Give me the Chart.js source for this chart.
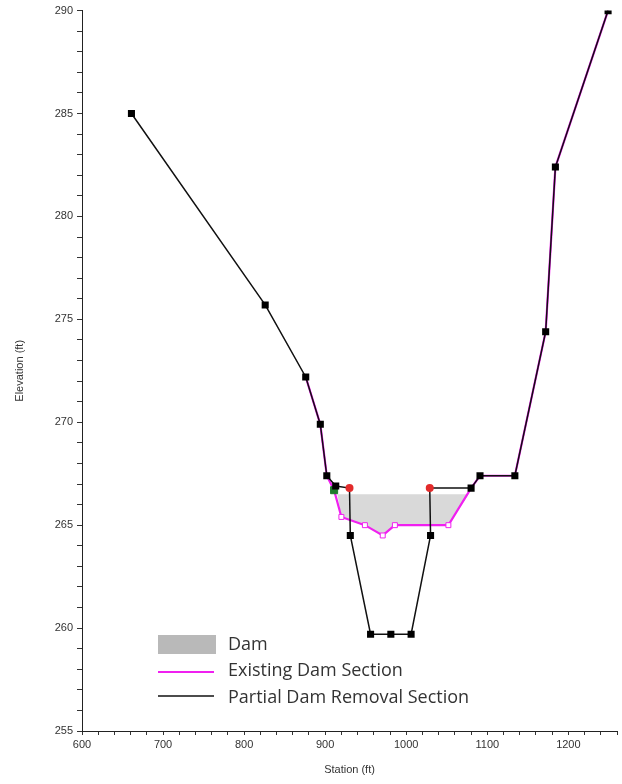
<!DOCTYPE html>
<html>
<head>
<meta charset="utf-8">
<title>Cross Section</title>
<script src="https://cdn.jsdelivr.net/npm/chart.js@4/dist/chart.umd.min.js"></script>
<style>
  html, body { margin: 0; padding: 0; background: #ffffff; }
  #wrap { width: 622px; height: 784px; position: relative; }
</style>
</head>
<body>
<div id="wrap"><canvas id="chart"></canvas></div>
<script>
// Partial dam removal cross section (station, elevation in ft)
const removalStation = [661, 826, 876, 894, 902, 913, 930, 931, 956, 981, 1006, 1030, 1029, 1080, 1091, 1134, 1172, 1184, 1249];
const removalElev    = [285.0, 275.7, 272.2, 269.9, 267.4, 266.9, 266.8, 264.5, 259.7, 259.7, 259.7, 264.5, 266.8, 266.8, 267.4, 267.4, 274.4, 282.4, 290.0];

// Existing dam section
const existingStation = [876, 894, 902, 911, 920, 949, 971, 986, 1052, 1080, 1091, 1134, 1172, 1184, 1249];
const existingElev    = [272.2, 269.9, 267.4, 266.7, 265.4, 265.0, 264.5, 265.0, 265.0, 266.8, 267.4, 267.4, 274.4, 282.4, 290.0];

// Dam body outline (closed shape)
const damStation = [915, 1077, 1052, 986, 971, 949, 920];
const damElev    = [266.5, 266.5, 265.0, 265.0, 264.5, 265.0, 265.4];

// Dam crest stations marked on the removal section
const crestStations = [930, 1029];

// Axis ranges and labelled ticks
const stationRange = [600, 1260];
const elevRange = [255, 290];
const stationLabels = [600, 700, 800, 900, 1000, 1100, 1200];
const elevLabels = [255, 260, 265, 270, 275, 280, 285, 290];

const legendItems = ['Dam', 'Existing Dam Section', 'Partial Dam Removal Section'];

const toPoints = (xs, ys) => xs.map((x, i) => ({ x: x, y: ys[i] }));

const MAGENTA = '#f020f0';
const DAM_FILL = 'rgba(185,185,185,0.55)';
const DAM_KEY = '#b9b9b9';

const isCrest = (ctx) => ctx.raw && crestStations.includes(ctx.raw.x);

const legendPlugin = {
  id: 'insetLegend',
  afterDraw(chart) {
    const c = chart.ctx;
    c.save();
    const x0 = 158, w = 58, tx = 228;
    // Dam swatch
    c.fillStyle = DAM_KEY;
    c.fillRect(x0, 635, w, 19);
    // Existing section line
    c.strokeStyle = MAGENTA;
    c.lineWidth = 2;
    c.beginPath(); c.moveTo(x0, 672); c.lineTo(x0 + 56, 672); c.stroke();
    // Removal section line
    c.strokeStyle = '#111111';
    c.lineWidth = 1.5;
    c.beginPath(); c.moveTo(x0, 696); c.lineTo(x0 + 56, 696); c.stroke();
    c.fillStyle = '#333333';
    c.font = '18px "Open Sans", Lato, sans-serif';
    c.textBaseline = 'alphabetic';
    c.fillText(legendItems[0], tx, 650);
    c.fillText(legendItems[1], tx, 676);
    c.fillText(legendItems[2], tx, 703);
    c.restore();
  }
};

const tickFont = { family: '"Liberation Sans", Arial, sans-serif', size: 11 };

new Chart(document.getElementById('chart'), {
  type: 'scatter',
  data: {
    datasets: [
      {
        label: legendItems[2],
        data: toPoints(removalStation, removalElev),
        showLine: true,
        borderColor: '#111111',
        borderWidth: 1.5,
        pointStyle: (ctx) => isCrest(ctx) ? 'circle' : 'rect',
        pointRadius: (ctx) => isCrest(ctx) ? 4 : 5,
        pointBackgroundColor: (ctx) => isCrest(ctx) ? '#e32b2b' : '#000000',
        pointBorderColor: (ctx) => isCrest(ctx) ? '#e32b2b' : '#000000',
        pointBorderWidth: 0,
        order: 1
      },
      {
        label: legendItems[1],
        data: toPoints(existingStation, existingElev),
        showLine: true,
        borderColor: MAGENTA,
        borderWidth: 2.2,
        pointStyle: 'rect',
        pointRadius: (ctx) => {
          const i = ctx.dataIndex;
          if (i === 3) return 5;
          return (i > 3 && i < 9) ? 3.5 : 0;
        },
        pointBackgroundColor: (ctx) => ctx.dataIndex === 3 ? '#1f7a2e' : '#ffffff',
        pointBorderColor: (ctx) => ctx.dataIndex === 3 ? '#1f7a2e' : MAGENTA,
        pointBorderWidth: 1,
        order: 2
      },
      {
        label: legendItems[0],
        data: toPoints(damStation, damElev),
        showLine: true,
        borderWidth: 0,
        borderColor: 'rgba(0,0,0,0)',
        backgroundColor: DAM_FILL,
        fill: 'shape',
        pointRadius: 0,
        order: 3
      }
    ]
  },
  options: {
    responsive: true,
    maintainAspectRatio: false,
    animation: false,
    layout: { padding: { top: 10, right: 5, bottom: 0, left: 0 } },
    plugins: {
      legend: { display: false },
      tooltip: { enabled: false }
    },
    scales: {
      x: {
        type: 'linear',
        min: stationRange[0],
        max: stationRange[1],
        afterFit: (s) => { s.height = 53; },
        grid: { drawOnChartArea: false, drawTicks: true, tickLength: 4, color: '#333333' },
        border: { color: '#222222', width: 1 },
        ticks: {
          stepSize: 20,
          autoSkip: false,
          maxRotation: 0,
          padding: 3,
          color: '#333333',
          font: tickFont,
          callback: (v) => stationLabels.includes(v) ? String(v) : ''
        },
        title: {
          display: true,
          text: 'Station (ft)',
          color: '#333333',
          font: tickFont,
          padding: { top: 0, bottom: 7 }
        }
      },
      y: {
        type: 'linear',
        min: elevRange[0],
        max: elevRange[1],
        afterFit: (s) => { s.width = 82; },
        grid: { drawOnChartArea: false, drawTicks: true, tickLength: 5, color: '#333333' },
        border: { color: '#222222', width: 1 },
        ticks: {
          stepSize: 1,
          autoSkip: false,
          padding: 4,
          color: '#333333',
          font: tickFont,
          callback: (v) => elevLabels.includes(v) ? String(v) : ''
        },
        title: {
          display: true,
          text: 'Elevation (ft)',
          color: '#333333',
          font: tickFont,
          padding: { top: 13, bottom: 0 }
        }
      }
    }
  },
  plugins: [legendPlugin]
});
</script>
</body>
</html>
